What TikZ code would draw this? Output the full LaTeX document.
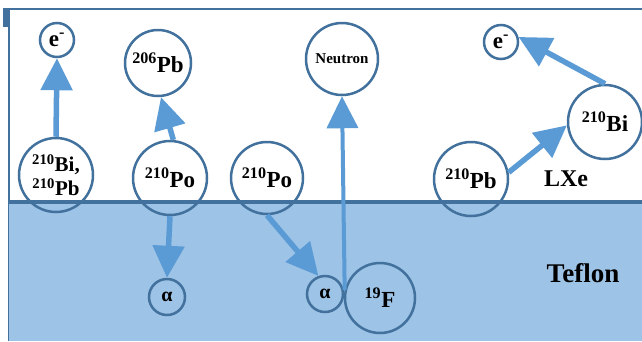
\documentclass[tikz,border=0pt]{standalone}
\usepackage{fontspec}
\setmainfont{Liberation Serif}
\usetikzlibrary{arrows.meta}
\definecolor{rim}{HTML}{41719C}
\definecolor{flow}{HTML}{5B9BD5}
\definecolor{teflon}{HTML}{9DC3E6}
\newcommand\isotope[2]{\textsuperscript{#1}#2}
\tikzset{
  particle/.style={circle, draw=rim, line width=2.5pt, inner sep=0pt,
    font=\bfseries\fontsize{23}{25}\selectfont},
  decay/.style={draw=flow, line width=5.5pt, -{Triangle[length=32pt,width=31pt]}},
  region/.style={font=\bfseries\fontsize{24}{26}\selectfont},
}
\begin{document}
\begin{tikzpicture}[x=1pt,y=-1pt]
  \useasboundingbox (0,0) rectangle (642,341);
  % Teflon wall below the liquid xenon
  \fill[teflon] (8.5,202) rectangle (642,341);
  \draw[rim, line width=1pt] (8.5,202) -- (8.5,341);
  % vessel outline and LXe/Teflon interface
  \draw[rim, line width=2.6pt] (9,202) -- (9,9) -- (642,9);
  \fill[rim] (3,8) rectangle (10,27);
  \draw[rim, line width=3.5pt] (8.5,202) -- (642,202);

  % particles
  \node[particle, minimum size=34pt] (E1) at (57,40) {e\textsuperscript{-}};
  \node[particle, minimum size=74pt, align=center,
        font=\bfseries\fontsize{21}{24}\selectfont] (BP) at (56,175)
        {\isotope{210}{Bi,}\\\isotope{210}{Pb}};
  \node[particle, minimum size=66pt] (Pb206) at (158,63) {\isotope{206}{Pb}};
  \node[particle, minimum size=74pt] (Po1) at (170,178) {\isotope{210}{Po}};
  \node[particle, minimum size=36pt, font=\bfseries\fontsize{20}{22}\selectfont] (A1) at (167,297) {α};
  \node[particle, minimum size=72pt] (Po2) at (267,178) {\isotope{210}{Po}};
  \node[particle, minimum size=72pt, font=\bfseries\fontsize{15}{17}\selectfont] (N) at (342,59) {Neutron};
  \node[particle, minimum size=36pt, font=\bfseries\fontsize{20}{22}\selectfont] (A2) at (325,294) {α};
  \node[particle, minimum size=70pt] (F) at (380,298) {\isotope{19}{F}};
  \node[particle, minimum size=74pt] (PbR) at (471,179) {\isotope{210}{Pb}};
  \node[particle, minimum size=74pt] (Bi) at (605,122) {\isotope{210}{Bi}};
  \node[particle, minimum size=34pt] (E2) at (501,42) {e\textsuperscript{-}};

  % region labels
  \node[region] (lxe) at (566,179) {LXe};
  \node[region, font=\bfseries\fontsize{27}{29}\selectfont] (tef) at (583,273) {Teflon};

  % decays
  \draw[decay] (BP.north) -- (E1.south);
  \draw[decay] (Po1.85) -- (Pb206.-85);
  \draw[decay] (Po1.south) -- (A1.north);
  \draw[decay] (Po2.south) -- (A2.110);
  \draw[decay, line width=4pt] (F.167) -- (N.south);
  \draw[decay] (PbR.10) -- (Bi.185);
  \draw[decay] (Bi.north) -- (E2.16);
\end{tikzpicture}
\end{document}
